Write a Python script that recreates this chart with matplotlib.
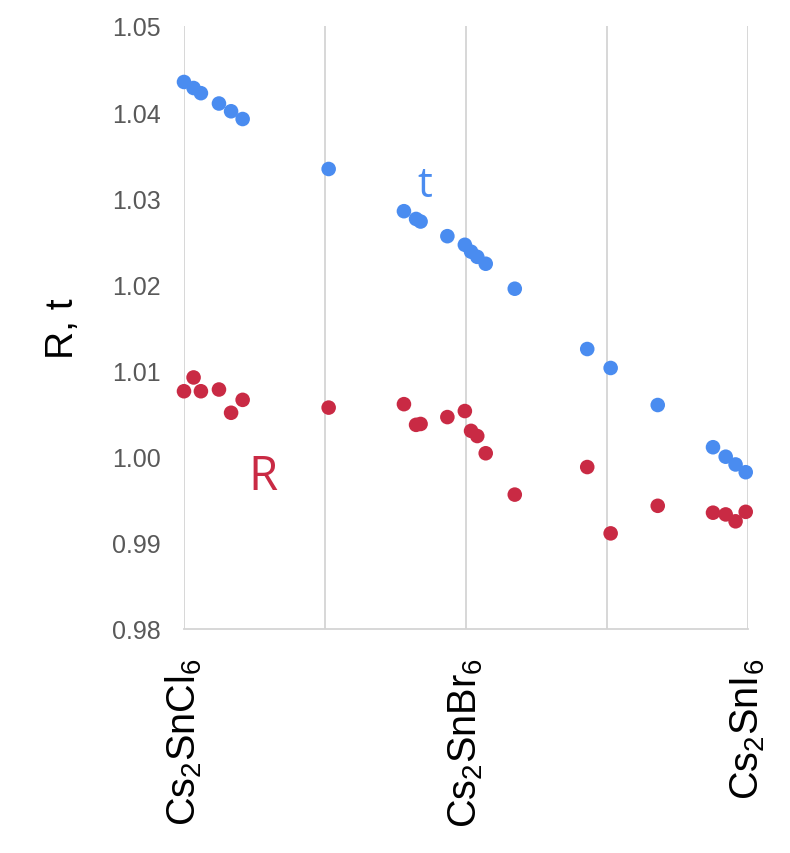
"""Tolerance factor t and ratio R for Cs2SnX6 mixed halides."""

import matplotlib.pyplot as plt

# shared composition positions (0 = Cl, 1 = Br, 2 = I)
composition = [0.0, 0.034, 0.06, 0.124, 0.167, 0.208, 0.513,
               0.780, 0.823, 0.839, 0.934, 0.996, 1.018, 1.040, 1.070, 1.173,
               1.430, 1.513, 1.680, 1.876, 1.921, 1.956, 1.992]

t_values = [1.0435, 1.0428, 1.0422, 1.0410, 1.0401, 1.0392, 1.0334,
            1.0285, 1.0276, 1.0273, 1.0256, 1.0246, 1.0238, 1.0232, 1.0224, 1.0195,
            1.0125, 1.0103, 1.0060, 1.0011, 1.0000, 0.9991, 0.9982]

r_values = [1.0076, 1.0092, 1.0076, 1.0078, 1.0051, 1.0066, 1.0057,
            1.0061, 1.0037, 1.0038, 1.0046, 1.0053, 1.0030, 1.0024, 1.0004, 0.9956,
            0.9988, 0.9911, 0.9943, 0.9935, 0.9933, 0.9925, 0.9936]

tick_positions = [0, 1, 2]
tick_labels = [r"Cs$_2$SnCl$_6$", r"Cs$_2$SnBr$_6$", r"Cs$_2$SnI$_6$"]

BLUE = "#4a8cf0"
RED = "#c92a44"
GRID = "#d4d4d4"

plt.rcParams["font.family"] = ["Liberation Sans", "DejaVu Sans"]
plt.rcParams["mathtext.fontset"] = "custom"
plt.rcParams["mathtext.rm"] = "Liberation Sans"
plt.rcParams["mathtext.it"] = "Liberation Sans"

fig = plt.figure(figsize=(7.9, 8.54), dpi=100)
ax = fig.add_axes([0.2329, 0.2623, 0.9468 - 0.2329, 0.9684 - 0.2623])

ax.scatter(composition, t_values, s=110, color=BLUE, edgecolors="none",
           zorder=3, clip_on=False)
ax.scatter(composition, r_values, s=110, color=RED, edgecolors="none",
           zorder=3, clip_on=False)

ax.set_xlim(0, 2)
ax.set_ylim(0.98, 1.05)
ax.set_yticks([0.98, 0.99, 1.00, 1.01, 1.02, 1.03, 1.04, 1.05])
ax.set_yticklabels([f"{v:.2f}" for v in ax.get_yticks()],
                   fontsize=18, color="#595959")

ax.set_xticks([0, 0.5, 1, 1.5, 2])
ax.set_xticklabels(["", "", "", "", ""])
ax.grid(axis="x", color=GRID, linewidth=1.3, zorder=0)
ax.tick_params(length=0, pad=17)
for side in ("top", "right", "left"):
    ax.spines[side].set_visible(False)
ax.spines["bottom"].set_color(GRID)
ax.spines["bottom"].set_linewidth(1.3)

for pos, label in zip(tick_positions, tick_labels, strict=True):
    ax.text(pos, -0.047, label, transform=ax.get_xaxis_transform(),
            rotation=90, ha="center", va="top", fontsize=28.5, color="black")

ax.set_ylabel("R, t", fontsize=28, labelpad=22)

ax.text(0.855, 1.0303, "t", color=BLUE, fontsize=30, family="Open Sans",
        ha="center", va="baseline")
ax.text(0.28, 0.9962, "R", color=RED, fontsize=34, family="Open Sans",
        ha="center", va="baseline")

fig.savefig("out.png", dpi=100)
